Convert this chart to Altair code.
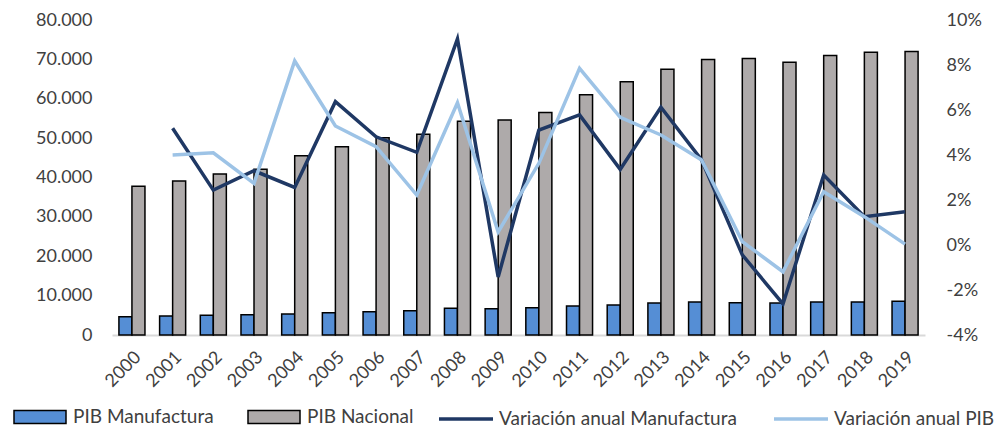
import altair as alt
import pandas as pd

years = [str(y) for y in range(2000, 2020)]

# PIB (millones), eje izquierdo
pib_manufactura = [4650, 4830, 5000, 5160, 5330, 5670, 5920, 6180, 6770, 6690,
                   6940, 7370, 7620, 8130, 8380, 8210, 8130, 8380, 8380, 8550]
pib_nacional = [37800, 39100, 40900, 42100, 45500, 47800, 50100, 51000, 54300, 54600,
                56500, 61000, 64300, 67500, 70000, 70200, 69300, 71000, 71800, 72000]

# Variaciones anuales, eje derecho (desde 2001)
var_years = years[1:]
var_manufactura = [0.0519, 0.0244, 0.0330, 0.0256, 0.0637, 0.0481, 0.0412, 0.0916, -0.0142,
                   0.0511, 0.0578, 0.0336, 0.0612, 0.0378, -0.0044, -0.0262, 0.0311, 0.0126, 0.0148]
var_pib = [0.0400, 0.0410, 0.0274, 0.0818, 0.0529, 0.0437, 0.0222, 0.0632, 0.0058,
           0.0363, 0.0785, 0.0567, 0.0489, 0.0378, 0.0015, -0.0119, 0.0237, 0.0126, 0.0004]

bar_names = ["PIB Manufactura", "PIB Nacional"]
line_names = ["Variación anual Manufactura", "Variación anual PIB"]

bars_df = pd.DataFrame(
    [{"year": y, "serie": bar_names[0], "valor": v} for y, v in zip(years, pib_manufactura)]
    + [{"year": y, "serie": bar_names[1], "valor": v} for y, v in zip(years, pib_nacional)]
)
lines_df = pd.DataFrame(
    [{"year": y, "serie": line_names[0], "tasa": v} for y, v in zip(var_years, var_manufactura)]
    + [{"year": y, "serie": line_names[1], "tasa": v} for y, v in zip(var_years, var_pib)]
)

FONT = "Lato"
TXT = "#404040"

x_enc = alt.X(
    "year:N",
    sort=years,
    scale=alt.Scale(domain=years, paddingInner=0.36, paddingOuter=0.17),
    axis=alt.Axis(
        title=None, labelAngle=-45, labelFontSize=18, labelColor=TXT, labelFont=FONT,
        ticks=False, domainColor="#D9D9D9", domainWidth=2, labelPadding=13,
    ),
)

bars = alt.Chart(bars_df).mark_bar(stroke="black", strokeWidth=1.5).encode(
    x=x_enc,
    xOffset=alt.XOffset("serie:N", sort=bar_names, scale=alt.Scale(domain=bar_names)),
    y=alt.Y(
        "valor:Q",
        scale=alt.Scale(domain=[0, 80000], nice=False),
        axis=alt.Axis(
            title=None, values=list(range(0, 80001, 10000)), grid=False, ticks=False,
            domain=False, labelFontSize=18, labelColor=TXT, labelFont=FONT, labelPadding=20,
            labelExpr="replace(format(datum.value, ',.0f'), ',', '.')",
        ),
    ),
    fill=alt.Fill(
        "serie:N",
        sort=bar_names,
        scale=alt.Scale(domain=bar_names, range=["#558ED5", "#AEAAAA"]),
        legend=alt.Legend(
            title=None, orient="none", direction="horizontal", legendX=-99, legendY=370,
            symbolType="M-1,-0.25H1V0.25H-1Z", symbolSize=2704, symbolStrokeColor="black",
            symbolStrokeWidth=1.5, labelFontSize=19, labelFont=FONT, labelColor=TXT,
            labelOffset=6, columnPadding=31, labelLimit=400,
        ),
    ),
)

lines = alt.Chart(lines_df).mark_line(strokeWidth=3.5).encode(
    x=x_enc,
    y=alt.Y(
        "tasa:Q",
        scale=alt.Scale(domain=[-0.04, 0.10], nice=False),
        axis=alt.Axis(
            title=None, orient="right", values=[-0.04, -0.02, 0, 0.02, 0.04, 0.06, 0.08, 0.10],
            grid=False, ticks=False, domain=False, labelFontSize=18,
            labelColor=TXT, labelFont=FONT, labelPadding=21,
            labelExpr="replace(format(datum.value, '.0%'), '\u2212', '-')",
        ),
    ),
    stroke=alt.Stroke(
        "serie:N",
        sort=line_names,
        scale=alt.Scale(domain=line_names, range=["#1F3864", "#9DC3E6"]),
        legend=alt.Legend(
            title=None, orient="none", direction="horizontal", legendX=325, legendY=370,
            symbolType="stroke", symbolSize=2916, symbolStrokeWidth=3.5,
            labelFontSize=19, labelFont=FONT, labelColor=TXT,
            labelOffset=4, columnPadding=30, labelLimit=400,
        ),
    ),
    detail="serie:N",
)

chart = (
    alt.layer(bars, lines)
    .resolve_scale(y="independent", fill="independent", stroke="independent")
    .properties(
        width=813,
        height=315,
        autosize=alt.AutoSizeParams(type="none"),
        padding={"left": 112, "top": 20, "right": 75, "bottom": 92},
        background="white",
    )
    .configure_view(stroke=None)
)

chart.save("out.html", embed_options={"renderer": "svg", "actions": False})
